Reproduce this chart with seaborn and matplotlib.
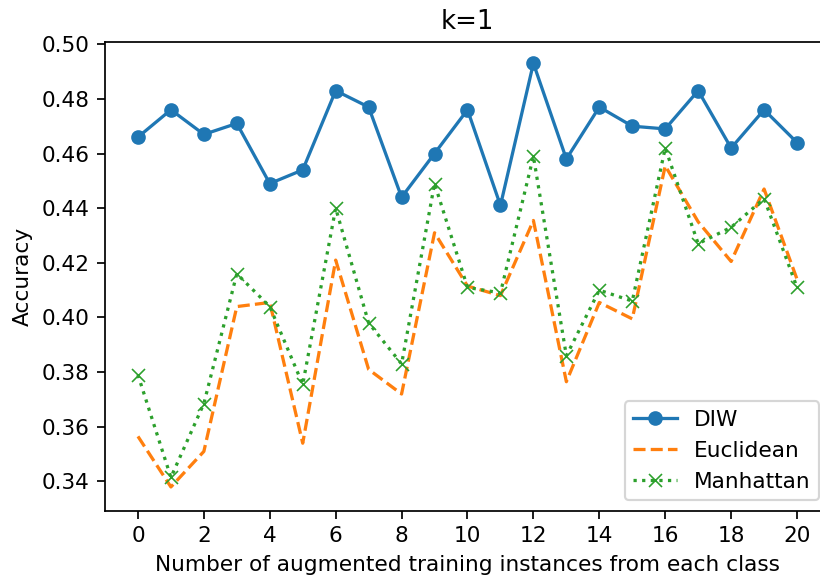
import pandas as pd
import seaborn as sns
import matplotlib.pyplot as plt
import numpy as np

instances = list(range(21))
diw = [0.466, 0.476, 0.467, 0.471, 0.449, 0.454, 0.483, 0.477, 0.444, 0.460, 0.476,
       0.441, 0.493, 0.458, 0.477, 0.470, 0.469, 0.483, 0.462, 0.476, 0.464]
euclidean = [0.3565, 0.338, 0.351, 0.404, 0.4055, 0.354, 0.421, 0.381, 0.372, 0.431, 0.4115,
             0.408, 0.4355, 0.3765, 0.4055, 0.3995, 0.4555, 0.435, 0.4205, 0.447, 0.414]
manhattan = [0.379, 0.3415, 0.3685, 0.416, 0.404, 0.3755, 0.440, 0.398, 0.383, 0.449, 0.411,
             0.409, 0.459, 0.386, 0.410, 0.406, 0.462, 0.427, 0.433, 0.4435, 0.411]

# reference looks like default matplotlib sizes rendered at ~156 dpi,
# with the right edge of the axes cropped off the image
dpi = 156
fig = plt.figure(figsize=(820 / dpi, 580 / dpi), dpi=dpi)
ax = fig.add_axes([105 / 820, 1 - 511 / 580, 725 / 820, 469 / 580])

sns.lineplot(x=instances, y=diw, ax=ax, color='C0', marker='o',
             markeredgecolor='C0', label='DIW')
sns.lineplot(x=instances, y=euclidean, ax=ax, color='C1', linestyle='--',
             label='Euclidean')
sns.lineplot(x=instances, y=manhattan, ax=ax, color='C2', linestyle=':', marker='x',
             markeredgecolor='C2', label='Manhattan')

ax.set_xticks(np.arange(0, 21, 2))
ax.set_xlim(-1, 21)
ax.set_ylim(0.3292, 0.5008)
ax.set_yticks(np.arange(0.34, 0.501, 0.02))
ax.set_title('k=1')
ax.set_xlabel('Number of augmented training instances from each class')
ax.set_ylabel('Accuracy')
ax.legend(loc='lower right')

fig.savefig('out.png', dpi=dpi)
